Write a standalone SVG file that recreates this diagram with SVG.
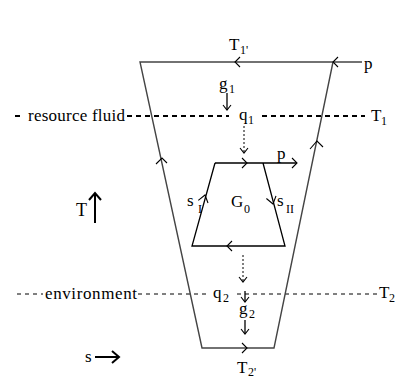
<svg xmlns="http://www.w3.org/2000/svg" width="397" height="379" viewBox="0 0 397 379">
<style>
text{font-family:"Liberation Serif","Times New Roman",serif;font-size:17px;fill:#000}
.sub{font-size:12px}
.ln{fill:none;stroke:#000;stroke-width:1.3}
.gr{fill:none;stroke:#444;stroke-width:1.4}
.hd{fill:none;stroke:#000;stroke-width:1.1}
.dot{fill:none;stroke:#000;stroke-width:1;stroke-dasharray:2 2}
.bd{fill:none;stroke:#000;stroke-width:2;stroke-dasharray:5 4}
.td{fill:none;stroke:#000;stroke-width:1;stroke-dasharray:4 4}
.bold{fill:none;stroke:#000;stroke-width:2}
</style>
<rect width="397" height="379" fill="#fff"/>
<g id="levels">
<path class="bd" d="M15,116H21M127,116H229M262,116H365"/>
<text x="28" y="121" textLength="97">resource fluid</text>
<text x="239" y="120">q</text><text class="sub" x="248" y="124">1</text>
<text x="371" y="121">T</text><text class="sub" x="381" y="125">1</text>
<path class="td" d="M17,294H43M138,294H210M237,294H377"/>
<text x="45" y="299" textLength="92">environment</text>
<text x="213" y="298">q</text><text class="sub" x="223" y="302">2</text>
<text x="379" y="298">T</text><text class="sub" x="389" y="302">2</text>
</g>
<g id="outer-cycle">
<path class="gr" d="M362,62H140L202,348H274L333,62"/>
<text x="229" y="50">T</text><text class="sub" x="240" y="54">1'</text>
<text x="237" y="373">T</text><text class="sub" x="248" y="376">2'</text>
<text x="364" y="69">p</text>
</g>
<g id="inner-cycle">
<path class="ln" d="M215,163H297M263,163L285,246H192L215,163"/>
<text x="231" y="207">G</text><text class="sub" x="244" y="213">0</text>
<text x="187" y="206">s</text><text class="sub" x="198" y="213">I</text>
<text x="277" y="206">s</text><text class="sub" x="286" y="213">II</text>
<text x="277" y="159">p</text>
</g>
<g id="connectors">
<path class="hd" d="M240,57L235,62L240,67M338,57L333,62L338,67M242,343L247,348L242,353"/>
<path class="hd" d="M156,164L162,158L167,163M310,149L317,141L323,147"/>
<path class="hd" d="M242,158L247,163L242,168M292,158L297,163L292,168M232,241L227,246L232,251"/>
<path class="hd" d="M198.3,200.4L205,195L208,203M276,195.9L273,204L266.4,198.5"/>
<path class="ln" d="M227,93V110"/><path class="hd" d="M223,105L227,110L231,105"/>
<path class="dot" d="M244,126V153"/><path class="hd" d="M240,148L244,153L248,148"/>
<path class="dot" d="M243,255V282"/><path class="hd" d="M239,277L243,282L247,277"/>
<path class="ln" d="M245,291V302"/><path class="hd" d="M241,297L245,302L249,297"/>
<path class="ln" d="M245,320V334"/><path class="hd" d="M241,329L245,334L249,329"/>
<text x="219" y="89">g</text><text class="sub" x="229" y="93">1</text>
<text x="239" y="314">g</text><text class="sub" x="249" y="318">2</text>
</g>
<g id="axes">
<path class="bold" d="M95,223V194M89,200L95,193L101,200"/>
<text x="76" y="216" style="font-size:18px">T</text>
<path class="bold" d="M95,357H119M112,351L119,357L112,363"/>
<text x="85" y="362">s</text>
</g>
</svg>
